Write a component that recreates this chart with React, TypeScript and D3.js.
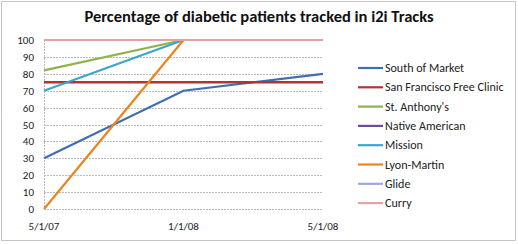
import React from "react";
import * as d3 from "d3";

const categories = ["5/1/07", "1/1/08", "5/1/08"];
const seriesNames = ["South of Market", "San Francisco Free Clinic", "St. Anthony's", "Native American", "Mission", "Lyon-Martin", "Glide", "Curry"];
const southOfMarket = [30, 70, 80];
const sfFreeClinic = [75, 75, 75];
const stAnthonys = [82, 100, null];
const nativeAmerican: (number | null)[] = [null, null, null];
const mission = [70, 100, null];
const lyonMartin = [0, 100, null];
const glide = [100, 100, 100];
const curry = [100, 100, 100];
const yTicks = [0, 10, 20, 30, 40, 50, 60, 70, 80, 90, 100];
const colors = ["#3F6FB0", "#B03532", "#8DB44A", "#6E4A9C", "#3AA7C9", "#F0821E", "#9DA8E0", "#E5A3A3"];

const allSeries = [southOfMarket, sfFreeClinic, stAnthonys, nativeAmerican, mission, lyonMartin, glide, curry];

export default function App() {
  const W = 518, H = 244;
  const left = 44, right = 323, top = 40, bottom = 209;
  const x = d3.scalePoint<string>().domain(categories).range([left, right]);
  const y = d3.scaleLinear().domain([0, 100]).range([bottom, top]);
  const line = d3.line<number | null>()
    .defined((d) => d !== null)
    .x((_, i) => x(categories[i]) as number)
    .y((d) => y(d as number));
  const font = "Carlito, Calibri, 'Liberation Sans', Arial, sans-serif";
  return (
    <svg width={W} height={H} style={{ position: "absolute", left: 0, top: 0, background: "#fff" }} fontFamily={font}>
      <rect x={1.5} y={1.5} width={514} height={239} fill="#fff" stroke="#888" strokeDasharray="1,1" />
      <text x={259} y={22} textAnchor="middle" fontSize={16.5} fontWeight="bold" fill="#111">
        Percentage of diabetic patients tracked  in i2i Tracks
      </text>
      {yTicks.map((t) => (
        <g key={t}>
          <line x1={left} x2={right} y1={Math.round(y(t)) + 0.5} y2={Math.round(y(t)) + 0.5} stroke="#bbb" strokeDasharray="2,1" />
          <text x={34} y={y(t) + 4} textAnchor="end" fontSize={11} fill="#222">{t}</text>
        </g>
      ))}
      <line x1={left + 0.5} x2={left + 0.5} y1={top} y2={bottom} stroke="#bbb" strokeDasharray="2,1" />
      {categories.map((c) => (
        <text key={c} x={x(c) as number} y={230} textAnchor="middle" fontSize={11} fill="#222">{c}</text>
      ))}
      {allSeries.map((s, i) => (
        <path key={i} d={line(s) || ""} fill="none" stroke={colors[i]} strokeWidth={i === 1 ? 2.6 : 2.2} />
      ))}
      {seriesNames.map((n, i) => {
        const ly = 68 + i * 19.3;
        return (
          <g key={n}>
            <line x1={358} x2={383} y1={ly} y2={ly} stroke={colors[i]} strokeWidth={2.2} />
            <text x={385} y={ly + 4} fontSize={12} fill="#222">{n}</text>
          </g>
        );
      })}
    </svg>
  );
}
